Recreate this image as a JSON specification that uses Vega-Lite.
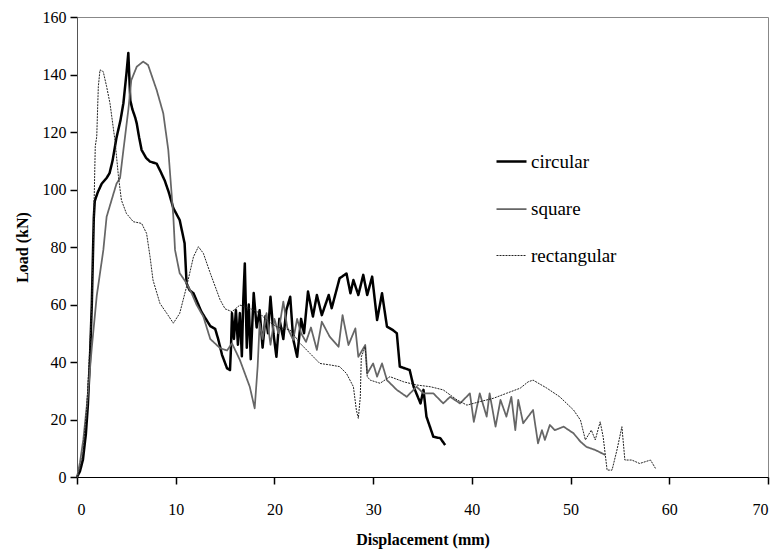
{
  "$schema": "https://vega.github.io/schema/vega-lite/v6.json",
  "width": 691,
  "height": 460,
  "autosize": {"type": "none"},
  "padding": {"left": 77, "top": 17, "right": 10, "bottom": 78},
  "background": "white",
  "config": {
    "font": "Liberation Serif",
    "view": {"stroke": "#888888", "strokeWidth": 1},
    "legend": {"labelFont": "Liberation Serif", "labelFontSize": 19, "labelColor": "black", "symbolType": "stroke", "symbolSize": 900, "rowPadding": 21, "labelOffset": 3}
  },
  "data": {"values": [
    {"s":"circular","x":0,"y":0},{"s":"circular","x":0.3,"y":2},{"s":"circular","x":0.6,"y":6},{"s":"circular","x":0.9,"y":15},{"s":"circular","x":1.1,"y":25},{"s":"circular","x":1.3,"y":40},{"s":"circular","x":1.5,"y":60},{"s":"circular","x":1.6,"y":75},{"s":"circular","x":1.7,"y":90},{"s":"circular","x":1.8,"y":96},{"s":"circular","x":2.1,"y":99},{"s":"circular","x":2.5,"y":102},{"s":"circular","x":3.0,"y":104},{"s":"circular","x":3.3,"y":105.7},{"s":"circular","x":3.6,"y":110},{"s":"circular","x":4.0,"y":118},{"s":"circular","x":4.4,"y":124},{"s":"circular","x":4.7,"y":130},{"s":"circular","x":5.0,"y":140},{"s":"circular","x":5.2,"y":147.5},{"s":"circular","x":5.4,"y":131},{"s":"circular","x":5.6,"y":128},{"s":"circular","x":5.9,"y":125},{"s":"circular","x":6.05,"y":123},{"s":"circular","x":6.3,"y":118},{"s":"circular","x":6.55,"y":113.7},{"s":"circular","x":7.0,"y":111},{"s":"circular","x":7.4,"y":109.7},{"s":"circular","x":8.07,"y":109},{"s":"circular","x":8.5,"y":106},{"s":"circular","x":8.9,"y":103},{"s":"circular","x":9.3,"y":99},{"s":"circular","x":9.76,"y":93.5},{"s":"circular","x":10.4,"y":89.4},{"s":"circular","x":10.9,"y":81.3},{"s":"circular","x":11.1,"y":67.4},{"s":"circular","x":11.4,"y":65},{"s":"circular","x":11.8,"y":63.9},{"s":"circular","x":12.6,"y":57.5},{"s":"circular","x":13.5,"y":52.5},{"s":"circular","x":14.0,"y":51.5},{"s":"circular","x":14.3,"y":48},{"s":"circular","x":14.7,"y":42.4},{"s":"circular","x":15.2,"y":37.8},{"s":"circular","x":15.5,"y":37.2},{"s":"circular","x":15.6,"y":45},{"s":"circular","x":15.7,"y":57},{"s":"circular","x":15.9,"y":48},{"s":"circular","x":16.1,"y":58},{"s":"circular","x":16.3,"y":46},{"s":"circular","x":16.5,"y":57},{"s":"circular","x":16.7,"y":42},{"s":"circular","x":16.85,"y":62},{"s":"circular","x":17.0,"y":74.3},{"s":"circular","x":17.2,"y":45},{"s":"circular","x":17.4,"y":60},{"s":"circular","x":17.6,"y":41},{"s":"circular","x":17.9,"y":64},{"s":"circular","x":18.2,"y":52},{"s":"circular","x":18.5,"y":58},{"s":"circular","x":18.8,"y":45},{"s":"circular","x":19.1,"y":56},{"s":"circular","x":19.35,"y":50},{"s":"circular","x":19.6,"y":62.7},{"s":"circular","x":19.9,"y":50},{"s":"circular","x":20.2,"y":41.8},{"s":"circular","x":20.5,"y":55},{"s":"circular","x":20.9,"y":48},{"s":"circular","x":21.2,"y":58},{"s":"circular","x":21.6,"y":62.7},{"s":"circular","x":21.9,"y":48},{"s":"circular","x":22.3,"y":41.8},{"s":"circular","x":22.7,"y":55},{"s":"circular","x":23.0,"y":50},{"s":"circular","x":23.4,"y":64.5},{"s":"circular","x":23.9,"y":55.8},{"s":"circular","x":24.3,"y":63.3},{"s":"circular","x":24.8,"y":56.3},{"s":"circular","x":25.5,"y":63.3},{"s":"circular","x":25.8,"y":58.7},{"s":"circular","x":26.6,"y":69.1},{"s":"circular","x":27.3,"y":70.8},{"s":"circular","x":27.7,"y":63.9},{"s":"circular","x":28.0,"y":68.5},{"s":"circular","x":28.5,"y":63.3},{"s":"circular","x":29.0,"y":70.3},{"s":"circular","x":29.4,"y":63.3},{"s":"circular","x":29.9,"y":69.7},{"s":"circular","x":30.4,"y":54.6},{"s":"circular","x":30.9,"y":63.9},{"s":"circular","x":31.4,"y":52.3},{"s":"circular","x":32.0,"y":51.1},{"s":"circular","x":32.4,"y":50},{"s":"circular","x":32.7,"y":38.4},{"s":"circular","x":33.7,"y":37.2},{"s":"circular","x":34.1,"y":31.4},{"s":"circular","x":34.8,"y":25.6},{"s":"circular","x":35.1,"y":30.3},{"s":"circular","x":35.4,"y":21},{"s":"circular","x":36.1,"y":14},{"s":"circular","x":36.8,"y":13.5},{"s":"circular","x":37.3,"y":11.1},

    {"s":"square","x":0,"y":0},{"s":"square","x":0.3,"y":5},{"s":"square","x":0.64,"y":13},{"s":"square","x":1.0,"y":25},{"s":"square","x":1.5,"y":45},{"s":"square","x":2.0,"y":63},{"s":"square","x":2.67,"y":79},{"s":"square","x":3.0,"y":90.5},{"s":"square","x":3.7,"y":98.6},{"s":"square","x":4.0,"y":102},{"s":"square","x":4.36,"y":104},{"s":"square","x":4.7,"y":113.7},{"s":"square","x":5.2,"y":127.7},{"s":"square","x":5.5,"y":138},{"s":"square","x":6.05,"y":142.7},{"s":"square","x":6.7,"y":144.5},{"s":"square","x":7.2,"y":143.3},{"s":"square","x":8.07,"y":134.6},{"s":"square","x":8.74,"y":126.5},{"s":"square","x":9.25,"y":113.7},{"s":"square","x":9.76,"y":90.5},{"s":"square","x":9.93,"y":79},{"s":"square","x":10.4,"y":70.9},{"s":"square","x":11.1,"y":67.4},{"s":"square","x":11.6,"y":64},{"s":"square","x":12.1,"y":60},{"s":"square","x":12.8,"y":55.8},{"s":"square","x":13.5,"y":48},{"s":"square","x":14.5,"y":44.8},{"s":"square","x":15.2,"y":44},{"s":"square","x":15.7,"y":46.5},{"s":"square","x":16.5,"y":40.7},{"s":"square","x":17.5,"y":31.4},{"s":"square","x":18.0,"y":23.9},{"s":"square","x":18.3,"y":38.4},{"s":"square","x":18.5,"y":53.5},{"s":"square","x":18.8,"y":48},{"s":"square","x":19.2,"y":57},{"s":"square","x":19.6,"y":46},{"s":"square","x":20.0,"y":55},{"s":"square","x":20.4,"y":50},{"s":"square","x":20.9,"y":61},{"s":"square","x":21.3,"y":52},{"s":"square","x":21.9,"y":47.7},{"s":"square","x":22.3,"y":55},{"s":"square","x":22.7,"y":50},{"s":"square","x":23.2,"y":47},{"s":"square","x":23.7,"y":52},{"s":"square","x":24.3,"y":44.2},{"s":"square","x":24.8,"y":54},{"s":"square","x":25.6,"y":48.8},{"s":"square","x":26.5,"y":45.3},{"s":"square","x":26.9,"y":56.3},{"s":"square","x":27.5,"y":45.9},{"s":"square","x":28.2,"y":51.7},{"s":"square","x":28.5,"y":41.8},{"s":"square","x":29.2,"y":45.9},{"s":"square","x":29.4,"y":36},{"s":"square","x":30.0,"y":39.5},{"s":"square","x":30.4,"y":34.9},{"s":"square","x":30.9,"y":39.5},{"s":"square","x":31.4,"y":33.7},{"s":"square","x":32.4,"y":30.3},{"s":"square","x":33.4,"y":27.9},{"s":"square","x":34.4,"y":31.4},{"s":"square","x":35.1,"y":29.1},{"s":"square","x":36.1,"y":29.1},{"s":"square","x":37.1,"y":25.6},{"s":"square","x":37.8,"y":27.9},{"s":"square","x":38.8,"y":25.6},{"s":"square","x":39.8,"y":29.1},{"s":"square","x":40.2,"y":19.2},{"s":"square","x":40.8,"y":29.1},{"s":"square","x":41.5,"y":21},{"s":"square","x":41.8,"y":29.1},{"s":"square","x":42.4,"y":17.5},{"s":"square","x":42.9,"y":26.8},{"s":"square","x":43.5,"y":21},{"s":"square","x":44.0,"y":27.9},{"s":"square","x":44.4,"y":16.3},{"s":"square","x":44.7,"y":26.8},{"s":"square","x":45.2,"y":18.7},{"s":"square","x":46.2,"y":23.3},{"s":"square","x":46.7,"y":11.7},{"s":"square","x":47.1,"y":16.3},{"s":"square","x":47.4,"y":12.9},{"s":"square","x":47.9,"y":18.1},{"s":"square","x":48.4,"y":16.3},{"s":"square","x":49.3,"y":17.5},{"s":"square","x":50.3,"y":15.2},{"s":"square","x":51.0,"y":12.3},{"s":"square","x":51.6,"y":10.5},{"s":"square","x":52.5,"y":9.4},{"s":"square","x":53.5,"y":7.7},

    {"s":"rectangular","x":0,"y":0},{"s":"rectangular","x":0.3,"y":3},{"s":"rectangular","x":0.6,"y":8},{"s":"rectangular","x":1.0,"y":25},{"s":"rectangular","x":1.3,"y":45},{"s":"rectangular","x":1.5,"y":60},{"s":"rectangular","x":1.7,"y":90},{"s":"rectangular","x":1.85,"y":115},{"s":"rectangular","x":2.0,"y":118.4},{"s":"rectangular","x":2.16,"y":135.8},{"s":"rectangular","x":2.33,"y":141.6},{"s":"rectangular","x":2.66,"y":141},{"s":"rectangular","x":3.0,"y":135.8},{"s":"rectangular","x":3.34,"y":130},{"s":"rectangular","x":3.85,"y":117},{"s":"rectangular","x":4.2,"y":104.5},{"s":"rectangular","x":4.5,"y":96.3},{"s":"rectangular","x":5.0,"y":91.7},{"s":"rectangular","x":5.7,"y":88.8},{"s":"rectangular","x":6.55,"y":88.2},{"s":"rectangular","x":7.05,"y":84.7},{"s":"rectangular","x":7.4,"y":76.6},{"s":"rectangular","x":7.7,"y":68.5},{"s":"rectangular","x":8.4,"y":60.4},{"s":"rectangular","x":9.1,"y":56.9},{"s":"rectangular","x":9.76,"y":53.5},{"s":"rectangular","x":10.4,"y":56.9},{"s":"rectangular","x":11.1,"y":66.2},{"s":"rectangular","x":11.8,"y":76.6},{"s":"rectangular","x":12.3,"y":80.1},{"s":"rectangular","x":12.8,"y":77.8},{"s":"rectangular","x":13.5,"y":70.9},{"s":"rectangular","x":14.5,"y":61.6},{"s":"rectangular","x":15.0,"y":58.5},{"s":"rectangular","x":15.7,"y":57.5},{"s":"rectangular","x":16.5,"y":59.8},{"s":"rectangular","x":17.2,"y":59},{"s":"rectangular","x":17.9,"y":58.1},{"s":"rectangular","x":18.5,"y":57},{"s":"rectangular","x":19.2,"y":54.6},{"s":"rectangular","x":20.2,"y":52.3},{"s":"rectangular","x":21.6,"y":51.1},{"s":"rectangular","x":22.6,"y":46.5},{"s":"rectangular","x":23.6,"y":43},{"s":"rectangular","x":24.6,"y":39.5},{"s":"rectangular","x":25.6,"y":39},{"s":"rectangular","x":26.6,"y":38.4},{"s":"rectangular","x":27.3,"y":36},{"s":"rectangular","x":28.0,"y":31.4},{"s":"rectangular","x":28.3,"y":23.3},{"s":"rectangular","x":28.5,"y":20.4},{"s":"rectangular","x":28.7,"y":27.9},{"s":"rectangular","x":28.8,"y":41.8},{"s":"rectangular","x":29.2,"y":45.3},{"s":"rectangular","x":29.4,"y":34.9},{"s":"rectangular","x":29.7,"y":33.7},{"s":"rectangular","x":30.7,"y":32.6},{"s":"rectangular","x":31.7,"y":34.9},{"s":"rectangular","x":33.1,"y":33.1},{"s":"rectangular","x":34.4,"y":32},{"s":"rectangular","x":35.8,"y":31.4},{"s":"rectangular","x":37.1,"y":30.3},{"s":"rectangular","x":38.5,"y":26.8},{"s":"rectangular","x":39.5,"y":25},{"s":"rectangular","x":40.8,"y":26.2},{"s":"rectangular","x":42.2,"y":27.4},{"s":"rectangular","x":43.5,"y":29.1},{"s":"rectangular","x":44.9,"y":30.9},{"s":"rectangular","x":45.7,"y":33.1},{"s":"rectangular","x":46.2,"y":33.7},{"s":"rectangular","x":47.6,"y":30.9},{"s":"rectangular","x":48.9,"y":27.9},{"s":"rectangular","x":50.3,"y":23.3},{"s":"rectangular","x":51.0,"y":19.8},{"s":"rectangular","x":51.5,"y":12.9},{"s":"rectangular","x":52.1,"y":16.3},{"s":"rectangular","x":52.5,"y":12.9},{"s":"rectangular","x":53.0,"y":19.2},{"s":"rectangular","x":53.3,"y":14},{"s":"rectangular","x":53.7,"y":2.4},{"s":"rectangular","x":54.2,"y":2.4},{"s":"rectangular","x":54.7,"y":9.4},{"s":"rectangular","x":55.2,"y":17.5},{"s":"rectangular","x":55.5,"y":5.9},{"s":"rectangular","x":56.2,"y":5.9},{"s":"rectangular","x":57.0,"y":4.7},{"s":"rectangular","x":58.1,"y":5.9},{"s":"rectangular","x":58.6,"y":3}
  ]},
  "mark": {"type": "line", "strokeJoin": "round"},
  "encoding": {
    "x": {"field": "x", "type": "quantitative", "scale": {"domain": [0, 70], "nice": false, "zero": false}, "axis": {"values": [0,10,20,30,40,50,60,70], "title": "Displacement (mm)", "grid": false, "labelFont": "Liberation Serif", "labelFontSize": 16, "labelColor": "black", "titleFont": "Liberation Serif", "titleFontSize": 16, "titleFontWeight": "bold", "titleColor": "black", "labelPadding": 17, "titlePadding": 14, "domainColor": "black", "domainWidth": 1, "ticks": true, "tickSize": 7, "tickWidth": 1.5, "tickColor": "black"}},
    "y": {"field": "y", "type": "quantitative", "scale": {"domain": [0, 160], "nice": false}, "axis": {"values": [0,20,40,60,80,100,120,140,160], "title": "Load (kN)", "grid": false, "labelFont": "Liberation Serif", "labelFontSize": 16, "labelColor": "black", "titleFont": "Liberation Serif", "titleFontSize": 16, "titleFontWeight": "bold", "titleColor": "black", "labelPadding": 4, "titlePadding": 12, "domainColor": "#555555", "domainWidth": 1, "ticks": true, "tickSize": 7, "tickWidth": 1.5, "tickColor": "black"}},
    "color": {"field": "s", "type": "nominal", "scale": {"domain": ["circular","square","rectangular"], "range": ["#000000","#666666","#222222"]}, "legend": {"title": null, "orient": "none", "legendX": 418, "legendY": 128}},
    "strokeWidth": {"field": "s", "type": "nominal", "scale": {"domain": ["circular","square","rectangular"], "range": [2.5, 1, 2.5]}, "legend": {"title": null, "orient": "none", "legendX": 418, "legendY": 128}},
    "strokeDash": {"field": "s", "type": "nominal", "scale": {"domain": ["circular","square","rectangular"], "range": [[1,0],[1,0],[2,1]]}, "legend": {"title": null, "orient": "none", "legendX": 418, "legendY": 128}}
  }
}
